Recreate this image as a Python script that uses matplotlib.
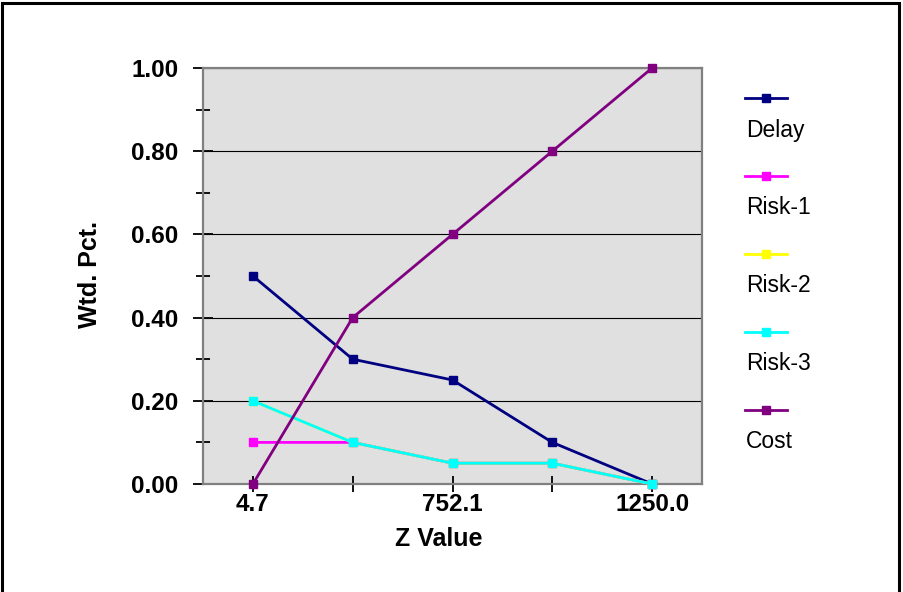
import matplotlib.pyplot as plt
from matplotlib.lines import Line2D
from matplotlib.patches import Rectangle
import numpy as np

plt.rcParams['font.family'] = ['Liberation Sans', 'DejaVu Sans']

# Chart data
z_labels = ['4.7', '', '752.1', '', '1250.0']
delay = [0.50, 0.30, 0.25, 0.10, 0.00]
risk1 = [0.10, 0.10, 0.05, 0.05, 0.00]
risk2 = [0.20, 0.10, 0.05, 0.05, 0.00]
risk3 = [0.20, 0.10, 0.05, 0.05, 0.00]
cost = [0.00, 0.40, 0.60, 0.80, 1.00]

series_names = ['Delay', 'Risk-1', 'Risk-2', 'Risk-3', 'Cost']
series_values = [delay, risk1, risk2, risk3, cost]
series_colors = ['#000080', '#FF00FF', '#FFFF00', '#00FFFF', '#800080']

fig = plt.figure(figsize=(9.04, 5.92), dpi=100)
ax = fig.add_axes([203 / 904, 108 / 592, 499 / 904, 416 / 592])
ax.set_facecolor('#E0E0E0')

x = np.arange(1, len(z_labels) + 1)
for name, vals, col in zip(series_names, series_values, series_colors):
    ax.plot(x, vals, color=col, lw=2, marker='s', ms=5.5, mec=col, mfc=col,
            clip_on=False, zorder=3)

ax.set_xlim(0.5, len(z_labels) + 0.5)
ax.set_ylim(0, 1.0)
ax.set_yticks(np.arange(0, 1.01, 0.2))
ax.set_yticks(np.arange(0.1, 1.0, 0.2), minor=True)
ax.set_yticklabels([f'{v:.2f}' for v in np.arange(0, 1.01, 0.2)],
                   fontsize=17.5, fontweight='bold')
ax.set_xticks(x)
ax.set_xticklabels(z_labels, fontsize=17.5, fontweight='bold')

ax.grid(True, axis='y', which='major', color='black', lw=0.8, zorder=1)
ax.set_axisbelow(True)

ax.tick_params(axis='y', which='major', direction='inout', length=15,
               width=1.3, pad=10)
ax.tick_params(axis='y', which='minor', direction='inout', length=10,
               width=1.3)
ax.tick_params(axis='x', which='major', direction='inout', length=11,
               width=1.3, pad=1)

for s in ax.spines.values():
    s.set_color('#808080')
    s.set_linewidth(1.6)

# Axis titles
fig.text(439 / 904, 1 - 539 / 592, 'Z Value', fontsize=18, fontweight='bold',
         ha='center', va='center')
fig.text(90 / 904, 1 - 275 / 592, 'Wtd. Pct.', fontsize=18, fontweight='bold',
         ha='center', va='center', rotation=90)

# Legend: handle line above each label
line_y = [98, 176, 254, 332, 410]
for name, col, ly in zip(series_names, series_colors, line_y):
    yf = 1 - ly / 592
    fig.add_artist(Line2D([745 / 904, 766 / 904, 787 / 904], [yf, yf, yf],
                          color=col, lw=2, marker='s', ms=5.5, markevery=[1],
                          transform=fig.transFigure))
    fig.text(746 / 904, 1 - (ly + 32) / 592, name, fontsize=16.5,
             ha='left', va='center')

# Outer frame of the chart
fig.add_artist(Rectangle((2.5 / 904, -0.05), 897 / 904, 1.05 - 3 / 592,
                         transform=fig.transFigure, fill=False,
                         edgecolor='black', lw=2.2))

fig.savefig('out.png', dpi=100)
